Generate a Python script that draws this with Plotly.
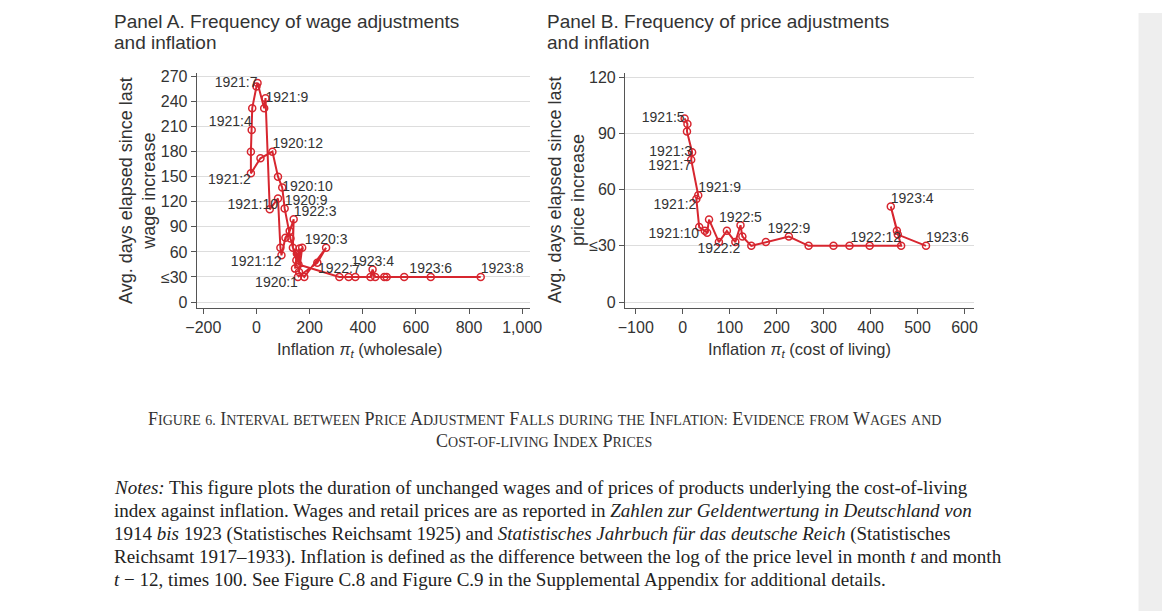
import plotly.graph_objects as go

# Panel A: wage adjustments vs wholesale inflation
wage_infl = [156, 229, 262, 180, 160, 172, 150, 128, 106, 97, 81, 60, 15, -21, -21, -18, -16,
             0, 4, 29, 34, 50, 81, 90, 94, 109, 125, 140, 137, 152, 145, 162, 158, 312, 347,
             372, 429, 437, 447, 481, 490, 556, 656, 844]
wage_days = [30, 47, 65, 30, 36, 65, 50, 76, 112, 137, 150, 180, 172, 154, 180, 206, 232,
             258, 262, 232, 244, 111, 124, 65, 56, 77, 85, 99, 65, 58, 40, 64, 45, 30, 30,
             30, 30, 39, 30, 30, 30, 30, 30, 30]
wage_labels = {0: ("1920:1", "bottom left"), 2: ("1920:3", "top center"),
               8: ("1920:9", "top right"), 9: ("1920:10", "middle right"),
               11: ("1920:12", "top right"), 13: ("1921:2", "bottom left"),
               15: ("1921:4", "top left"), 18: ("1921:7", "middle left"),
               20: ("1921:9", "middle right"), 22: ("1921:10", "bottom left"),
               24: ("1921:12", "bottom left"), 27: ("1922:3", "top right"),
               33: ("1922:7", "top center"), 37: ("1923:4", "top center"),
               42: ("1923:6", "top center"), 43: ("1923:8", "top right")}

# Panel B: price adjustments vs cost-of-living inflation
price_infl = [4, 10, 9, 20, 18, 33, 29, 35, 47, 52, 56, 77, 94, 112, 123, 127, 146, 177, 226,
              268, 321, 355, 398, 465, 443, 456, 458, 518]
price_days = [98, 95, 91, 80, 76, 57, 55, 40, 38, 37, 44, 32, 38, 32, 41, 35, 30, 32, 35,
              30, 30, 30, 30, 30, 51, 38, 36, 30]
price_labels = {0: ("1921:5", "middle left"), 3: ("1921:3", "middle left"),
                4: ("1921:7", "bottom left"), 5: ("1921:9", "top right"),
                6: ("1921:2", "bottom left"), 7: ("1921:10", "bottom left"),
                11: ("1922:2", "bottom center"), 14: ("1922:5", "top center"),
                18: ("1922:9", "top center"), 23: ("1922:12", "top left"),
                24: ("1923:4", "top right"), 27: ("1923:6", "top right")}

wage_yticks = [0, 30, 60, 90, 120, 150, 180, 210, 240, 270]
wage_xticks = [-200, 0, 200, 400, 600, 800, 1000]
price_yticks = [0, 30, 60, 90, 120]
price_xticks = [-100, 0, 100, 200, 300, 400, 500, 600]

RED = "#d7262f"
GREY = "#555555"
SANS = "Liberation Sans, Arial, sans-serif"
SERIF = "Liberation Serif, Times New Roman, serif"


def px_x(p):
    # paper fraction for a wanted pixel column
    return (p - 18) / 0.982 / 1170


def px_y(p):
    return 1 - (p - 12) / 0.98 / 611


def ylab(v):
    return "≤30" if v == 30 else str(v)


def add_panel(fig, xs, ys, labels, xa, ya):
    fig.add_trace(go.Scatter(x=xs, y=ys, mode="lines+markers", xaxis=xa, yaxis=ya,
                             line=dict(color=RED, width=2),
                             marker=dict(symbol="circle-open", size=7, color=RED,
                                         line=dict(width=1.5)),
                             showlegend=False))
    idx = sorted(labels)
    fig.add_trace(go.Scatter(x=[xs[i] for i in idx], y=[ys[i] for i in idx], mode="text",
                             text=[labels[i][0] for i in idx],
                             textposition=[labels[i][1] for i in idx],
                             textfont=dict(family=SANS, size=14, color="#333333"),
                             xaxis=xa, yaxis=ya, showlegend=False))


def small_caps(s, small=14):
    out = []
    for word in s.split(" "):
        if word and word[0].isupper():
            out.append(word[0] + f"<span style='font-size:{small}px'>{word[1:].upper()}</span>")
        else:
            out.append(f"<span style='font-size:{small}px'>{word.upper()}</span>")
    return " ".join(out)


fig = go.Figure()
add_panel(fig, wage_infl, wage_days, wage_labels, "x", "y")
add_panel(fig, price_infl, price_days, price_labels, "x2", "y2")

axis_common = dict(showline=True, linecolor=GREY, linewidth=1, ticks="outside",
                   ticklen=5, tickcolor=GREY, tickfont=dict(family=SANS, size=16, color="#333"),
                   zeroline=False)
fig.update_layout(
    width=1170, height=611, margin=dict(l=0, r=0, t=0, b=0),
    paper_bgcolor="white", plot_bgcolor="white",
    xaxis=dict(domain=[px_x(196), px_x(530)], range=[-225, 1030], tickvals=wage_xticks,
               ticktext=["−200", "0", "200", "400", "600", "800", "1,000"],
               showgrid=False, anchor="y", **axis_common),
    yaxis=dict(domain=[px_y(305), px_y(72)], range=[-7.2, 273.6], tickvals=wage_yticks,
               ticktext=[ylab(v) for v in wage_yticks], showgrid=True,
               gridcolor="#dddddd", anchor="x", **axis_common),
    xaxis2=dict(domain=[px_x(625), px_x(975)], range=[-123, 621], tickvals=price_xticks,
                ticktext=["−100", "0", "100", "200", "300", "400", "500", "600"],
                showgrid=False, anchor="y2", **axis_common),
    yaxis2=dict(domain=[px_y(305), px_y(72)], range=[-3.2, 122], tickvals=price_yticks,
                ticktext=[ylab(v) for v in price_yticks], showgrid=True,
                gridcolor="#dddddd", anchor="x2", **axis_common),
)

# grey strip at the right edge of the page
fig.add_shape(type="rect", xref="paper", yref="paper", x0=1142 / 1170, x1=1, y0=0, y1=1,
              fillcolor="#eeeeee", line=dict(width=0), layer="below")


def text(x, y, s, size=19, family=SANS, anchor="left", angle=0, color="#333333"):
    fig.add_annotation(x=px_x(x), y=px_y(y), xref="paper", yref="paper", text=s,
                       showarrow=False, xanchor=anchor, yanchor="middle", textangle=angle,
                       align="center" if anchor == "center" else "left",
                       font=dict(family=family, size=size, color=color))


text(111, 20, "Panel A. Frequency of wage adjustments")
text(111, 41, "and inflation")
text(545, 20, "Panel B. Frequency of price adjustments")
text(545, 41, "and inflation")
text(136, 188, "Avg. days elapsed since last<br>wage increase", size=18, anchor="center",
     angle=-90)
text(566, 188, "Avg. days elapsed since last<br>price increase", size=18, anchor="center",
     angle=-90)
text(360, 347, "Inflation <i>π<sub>t</sub></i> (wholesale)", size=16.5, anchor="center")
text(800, 347, "Inflation <i>π<sub>t</sub></i> (cost of living)", size=16.5, anchor="center")

text(544, 415, small_caps("Figure 6. Interval between Price Adjustment Falls during the "
                          "Inflation: Evidence from Wages and"), size=18, family=SERIF,
     anchor="center")
text(544, 437, small_caps("Cost-of-Living Index Prices"), size=18, family=SERIF,
     anchor="center")

notes = [
    "<i>Notes:</i> This figure plots the duration of unchanged wages and of prices of products "
    "underlying the cost-of-living",
    "index against inflation. Wages and retail prices are as reported in <i>Zahlen zur "
    "Geldentwertung in Deutschland von</i>",
    "1914 <i>bis</i> 1923 (Statistisches Reichsamt 1925) and <i>Statistisches Jahrbuch für das "
    "deutsche Reich</i> (Statistisches",
    "Reichsamt 1917–1933). Inflation is defined as the difference between the log of the price "
    "level in month <i>t</i> and month",
    "<i>t</i> − 12, times 100. See Figure C.8 and Figure C.9 in the Supplemental Appendix for "
    "additional details.",
]
for i, line in enumerate(notes):
    text(111, 483 + i * 23, line, size=19, family=SERIF, color="#222222")

fig.write_html("out.html")
